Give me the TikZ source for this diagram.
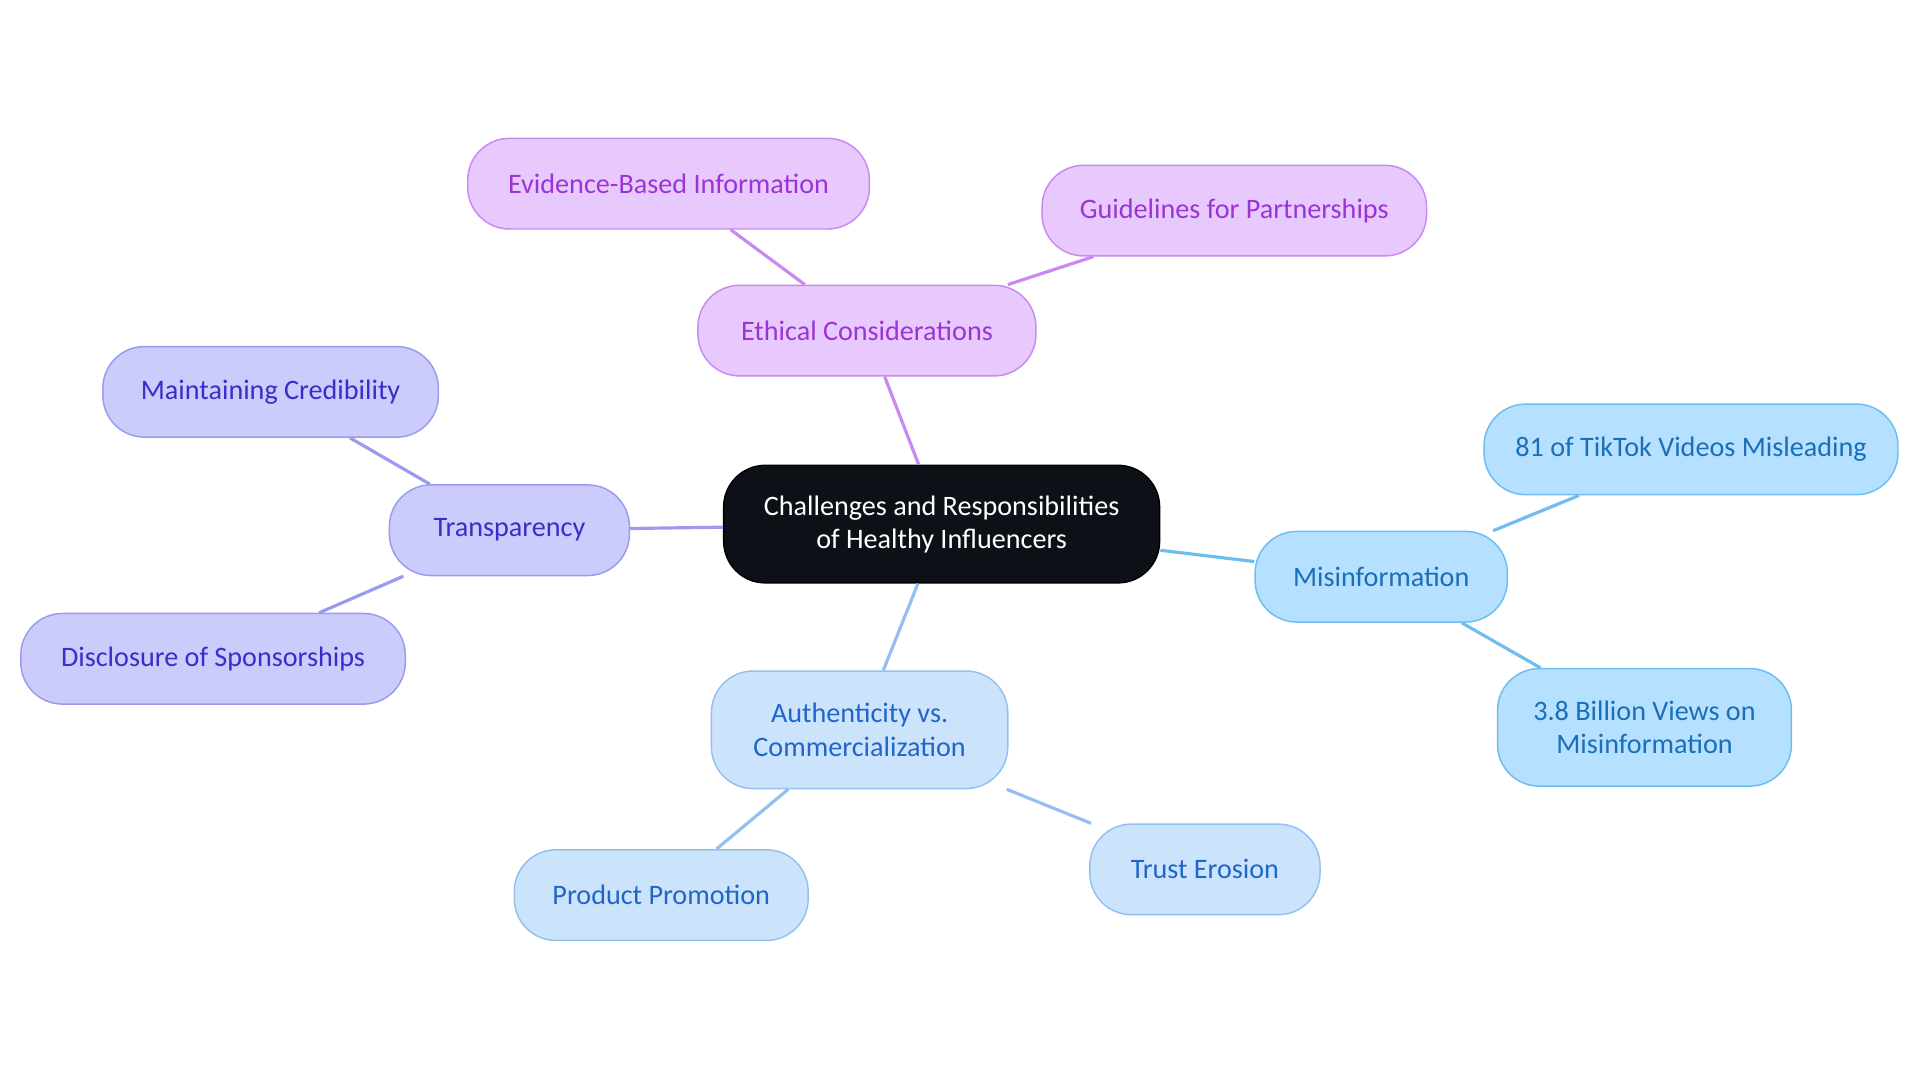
\documentclass[tikz,border=0pt]{standalone}
\usepackage{fontspec}
\setmainfont{Carlito}
\definecolor{pf}{HTML}{E8C9FD}\definecolor{ps}{HTML}{C88AF0}\definecolor{pt}{HTML}{9B34D6}
\definecolor{if}{HTML}{CBCBFC}\definecolor{is}{HTML}{9A9AF0}\definecolor{it}{HTML}{3A2DC8}
\definecolor{mf}{HTML}{B5E0FF}\definecolor{ms}{HTML}{6DBDF0}\definecolor{mt}{HTML}{1A6FB8}
\definecolor{af}{HTML}{CCE3FC}\definecolor{as}{HTML}{93C0F0}\definecolor{at}{HTML}{1F66C8}
\definecolor{cf}{HTML}{0D1117}
\begin{document}
\begin{tikzpicture}[x=0.5pt,y=-0.5pt,
 box/.style={draw,rounded corners=17pt,line width=0.6pt,align=center,inner sep=0pt,font=\fontsize{11.5}{13.5}\selectfont},
 P/.style={box,fill=pf,draw=ps,text=pt},I/.style={box,fill=if,draw=is,text=it},
 M/.style={box,fill=mf,draw=ms,text=mt},A/.style={box,fill=af,draw=as,text=at},
 lk/.style={line width=1.3pt}]
\useasboundingbox (0,0) rectangle (1568,884);
\node[box,fill=cf,text=white,draw=black,minimum width=178pt,minimum height=48pt] (c) at (769,428) {Challenges and Responsibilities\\of Healthy Influencers};
\node[P,minimum width=138pt,minimum height=37pt] (eth) at (708,270) {Ethical Considerations};
\node[P,minimum width=164pt,minimum height=37pt] (ev) at (546,150) {Evidence-Based Information};
\node[P,minimum width=157pt,minimum height=37pt] (gu) at (1008,172) {Guidelines for Partnerships};
\node[I,minimum width=98pt,minimum height=37pt] (tr) at (416,433) {Transparency};
\node[I,minimum width=137pt,minimum height=37pt] (ma) at (221,320) {Maintaining Credibility};
\node[I,minimum width=157pt,minimum height=37pt] (di) at (174,538) {Disclosure of Sponsorships};
\node[M,minimum width=103pt,minimum height=37pt] (mi) at (1128,471) {Misinformation};
\node[M,minimum width=169pt,minimum height=37pt] (tt) at (1381,367) {81 of TikTok Videos Misleading};
\node[M,minimum width=120pt,minimum height=48pt] (bv) at (1343,594) {3.8 Billion Views on\\Misinformation};
\node[A,minimum width=121pt,minimum height=48pt] (au) at (702,596) {Authenticity vs.\\Commercialization};
\node[A,minimum width=120pt,minimum height=37pt] (pp) at (540,731) {Product Promotion};
\node[A,minimum width=94pt,minimum height=37pt] (te) at (984,710) {Trust Erosion};
\begin{scope}[on background layer/.style={}]
\end{scope}
\draw[lk,ps] (c) -- (eth); \draw[lk,ps] (eth) -- (ev); \draw[lk,ps] (eth) -- (gu);
\draw[lk,is] (c) -- (tr); \draw[lk,is] (tr) -- (ma); \draw[lk,is] (tr) -- (di);
\draw[lk,ms] (c) -- (mi); \draw[lk,ms] (mi) -- (tt); \draw[lk,ms] (mi) -- (bv);
\draw[lk,as] (c) -- (au); \draw[lk,as] (au) -- (pp); \draw[lk,as] (au) -- (te);
\end{tikzpicture}
\end{document}
